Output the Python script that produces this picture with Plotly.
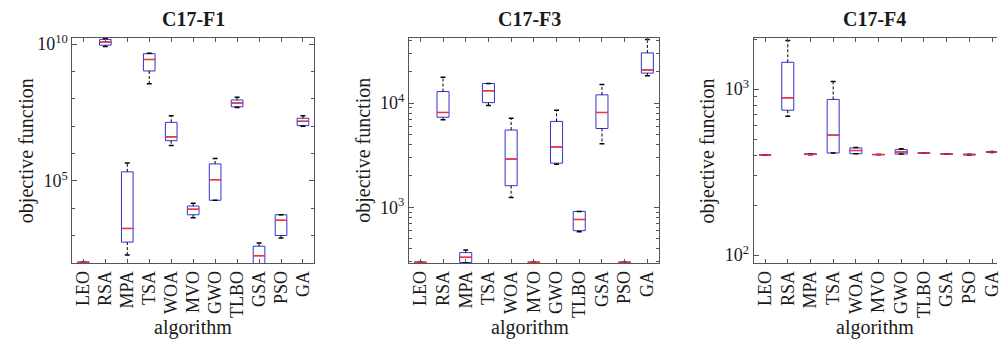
import plotly.graph_objects as go

algorithms = ["LEO", "RSA", "MPA", "TSA", "WOA", "MVO", "GWO", "TLBO", "GSA", "PSO", "GA"]

titles = ["C17-F1", "C17-F3", "C17-F4"]

# ---- C17-F1 ----
f1_lo  = [105, 8.3e9, 195, 3.6e8, 1.95e6, 4470, 1.95e4, 4.8e7, 90, 813, 1.0e7]
f1_q1  = [105, 9.2e9, 575, 1.05e9, 2.95e6, 5750, 1.95e4, 5.13e7, 90, 1000, 1.05e7]
f1_med = [105, 1.2e10, 1820, 2.75e9, 4.07e6, 9120, 1.1e5, 7.08e7, 182, 3630, 1.51e7]
f1_q3  = [105, 1.5e10, 2.14e5, 4.47e9, 1.38e7, 1.2e4, 4.17e5, 9.1e7, 407, 5750, 1.95e7]
f1_hi  = [105, 1.6e10, 4.47e5, 4.68e9, 2.4e7, 1.51e4, 6.6e5, 1.15e8, 537, 5750, 2.4e7]

# ---- C17-F3 ----
f3_lo  = [296, 6920, 293, 9500, 1240, 296, 2590, 582, 4060, 296, 1.83e4]
f3_q1  = [296, 7310, 295, 1.01e4, 1610, 296, 2650, 596, 5700, 296, 1.94e4]
f3_med = [296, 8130, 331, 1.31e4, 2900, 296, 3780, 764, 8130, 296, 2.08e4]
f3_q3  = [296, 1.29e4, 367, 1.54e4, 5510, 296, 6670, 912, 1.2e4, 296, 3.03e4]
f3_hi  = [296, 1.77e4, 389, 1.54e4, 7160, 296, 8550, 912, 1.51e4, 296, 4.08e4]

# ---- C17-F4 ----
f4_lo  = [400, 685, 402, 412, 408, 403, 406, 410, 406, 400, 415]
f4_q1  = [400, 746, 403, 412, 408, 403, 406, 410, 406, 401, 416]
f4_med = [400, 885, 405, 528, 426, 403, 418, 412, 406, 403, 418]
f4_q3  = [400, 1450, 407, 866, 442, 403, 432, 414, 406, 405, 420]
f4_hi  = [400, 1960, 408, 1110, 445, 403, 437, 414, 406, 405, 421]

# y-axis tick settings
f1_major = [1e5, 1e10]
f1_major_text = ["10<sup>5</sup>", "10<sup>10</sup>"]
f1_minor = [1e2, 1e3, 1e4, 1e6, 1e7, 1e8, 1e9]
f3_major = [1e3, 1e4]
f3_major_text = ["10<sup>3</sup>", "10<sup>4</sup>"]
f3_minor = [300, 400, 500, 600, 700, 800, 900, 2000, 3000, 4000, 5000, 6000, 7000, 8000, 9000, 20000, 30000, 40000]
f4_major = [1e2, 1e3]
f4_major_text = ["10<sup>2</sup>", "10<sup>3</sup>"]
f4_minor = [200, 300, 400, 500, 600, 700, 800, 900, 2000]

panels = [
    dict(lo=f1_lo, q1=f1_q1, med=f1_med, q3=f1_q3, hi=f1_hi,
         major=f1_major, major_text=f1_major_text, minor=f1_minor,
         yrange=[2.0, 10.235], xdom=[0.0726, 0.3149], xrange=[-0.5, 10.5], mirror_y="ticks"),
    dict(lo=f3_lo, q1=f3_q1, med=f3_med, q3=f3_q3, hi=f3_hi,
         major=f3_major, major_text=f3_major_text, minor=f3_minor,
         yrange=[2.466, 4.627], xdom=[0.4102, 0.6607], xrange=[-0.5, 10.5], mirror_y="ticks"),
    dict(lo=f4_lo, q1=f4_q1, med=f4_med, q3=f4_q3, hi=f4_hi,
         major=f4_major, major_text=f4_major_text, minor=f4_minor,
         yrange=[1.953, 3.309], xdom=[0.756, 1.0], xrange=[-0.5, 10.22], mirror_y=False),
]

BLUE = "rgb(50,50,210)"
RED = "rgb(245,50,50)"
FRAME = "#555555"
TXT = "#1a1a1a"
FONT = "Liberation Serif"
ydom = [0.2332, 0.9052]

fig = go.Figure()
layout = dict(
    width=1002, height=343, margin=dict(l=0, r=0, t=0, b=0),
    paper_bgcolor="white", plot_bgcolor="white", showlegend=False,
    font=dict(family=FONT, color=TXT),
)
annotations = []

for i, p in enumerate(panels):
    n = "" if i == 0 else str(i + 1)
    xa, ya = "x" + n, "y" + n
    fig.add_trace(go.Box(
        x=algorithms, q1=p["q1"], median=p["med"], q3=p["q3"],
        lowerfence=p["q1"], upperfence=p["q3"],
        line=dict(color=BLUE, width=1), fillcolor="rgba(0,0,0,0)",
        width=0.53, whiskerwidth=0, boxpoints=False, xaxis=xa, yaxis=ya,
        hoverinfo="skip"))
    wx, wy = [], []
    for c, lo, q1, q3, hi in zip(algorithms, p["lo"], p["q1"], p["q3"], p["hi"]):
        wx += [c, c, None, c, c, None]
        wy += [q3, hi, None, q1, lo, None]
    fig.add_trace(go.Scatter(x=wx, y=wy, mode="lines", xaxis=xa, yaxis=ya,
                             line=dict(color="black", width=1, dash="3px,2px"),
                             hoverinfo="skip"))
    fig.add_trace(go.Scatter(x=algorithms + algorithms, y=p["lo"] + p["hi"], mode="markers",
                             xaxis=xa, yaxis=ya,
                             marker=dict(symbol="line-ew", size=3.5,
                                         line=dict(color="black", width=1.5)),
                             hoverinfo="skip"))
    fig.add_trace(go.Scatter(x=algorithms, y=p["med"], mode="markers", xaxis=xa, yaxis=ya,
                             marker=dict(symbol="line-ew", size=8.6,
                                         line=dict(color=RED, width=1.5)),
                             hoverinfo="skip"))
    layout["xaxis" + n] = dict(
        domain=p["xdom"], anchor=ya, type="category", categoryorder="array",
        categoryarray=algorithms, range=p["xrange"],
        tickmode="array", tickvals=algorithms, ticktext=algorithms,
        showline=True, linecolor=FRAME, linewidth=1, mirror="ticks",
        ticks="inside", ticklen=4, tickcolor=FRAME, tickangle=-90,
        tickfont=dict(family=FONT, size=18, color=TXT), showgrid=False, zeroline=False)
    layout["yaxis" + n] = dict(
        domain=ydom, anchor=xa, type="log", range=p["yrange"],
        showline=True, linecolor=FRAME, linewidth=1, mirror=p["mirror_y"],
        ticks="inside", ticklen=5, tickcolor=FRAME,
        tickmode="array", tickvals=p["major"], ticktext=p["major_text"],
        tickfont=dict(family=FONT, size=18, color=TXT),
        minor=dict(ticks="inside", ticklen=3, tickcolor=FRAME, tickmode="array",
                   tickvals=p["minor"], showgrid=False),
        showgrid=False, zeroline=False)
    xc = (p["xdom"][0] + (p["xdom"][0] + 242.8 / 1002)) / 2
    annotations.append(dict(text="<b>" + titles[i] + "</b>", x=xc, y=1 - 13 / 343,
                            xanchor="center", yanchor="middle",
                            xref="paper", yref="paper", showarrow=False,
                            font=dict(family=FONT, size=20, color=TXT)))
    annotations.append(dict(text="algorithm", x=xc, y=1 - 329 / 343,
                            xanchor="center", yanchor="middle",
                            xref="paper", yref="paper", showarrow=False,
                            font=dict(family=FONT, size=20, color=TXT)))
    annotations.append(dict(text="objective function", textangle=-90,
                            x=(p["xdom"][0] * 1002 - 46) / 1002, y=1 - 148 / 343,
                            xanchor="center", yanchor="middle",
                            xref="paper", yref="paper", showarrow=False,
                            font=dict(family=FONT, size=20, color=TXT)))

layout["annotations"] = annotations
fig.update_layout(**layout)
fig.write_html("out.html")
